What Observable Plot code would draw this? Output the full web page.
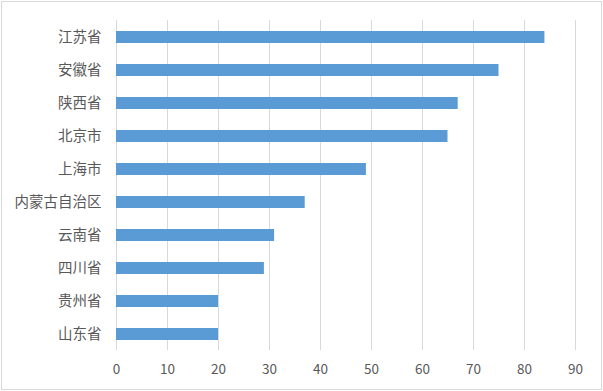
<!DOCTYPE html>
<html>
<head>
<meta charset="utf-8">
<script src="https://cdn.jsdelivr.net/npm/d3@7"></script>
<script src="https://cdn.jsdelivr.net/npm/@observablehq/plot@0.6"></script>
<style>
  html, body { margin: 0; padding: 0; background: #fff; }
  #wrap { position: relative; width: 603px; height: 391px; }
  #border { position: absolute; left: 1px; top: 1px; width: 599px; height: 387px; border: 1px solid #d9d9d9; pointer-events: none; }
</style>
</head>
<body>
<div id="wrap"><div id="border"></div></div>
<script>
const provinces = ["江苏省", "安徽省", "陕西省", "北京市", "上海市", "内蒙古自治区", "云南省", "四川省", "贵州省", "山东省"];
const values = [84, 75, 67, 65, 49, 37, 31, 29, 20, 20];
const xTicks = [0, 10, 20, 30, 40, 50, 60, 70, 80, 90];

const data = provinces.map((p, i) => ({province: p, value: values[i]}));

const chart = Plot.plot({
  width: 603,
  height: 391,
  marginLeft: 116,
  marginRight: 28,
  marginTop: 20,
  marginBottom: 41,
  style: {fontFamily: "'Noto Sans CJK SC', 'Noto Sans', sans-serif", color: "#595959", background: "transparent"},
  x: {domain: [0, 90], ticks: xTicks, label: null},
  y: {domain: provinces, paddingInner: 0.64, paddingOuter: 0.32, label: null},
  marks: [
    Plot.gridX(xTicks, {stroke: "#d9d9d9", strokeOpacity: 1, strokeWidth: 1}),
    Plot.barX(data, {y: "province", x: "value", fill: "#5b9bd5"}),
    Plot.axisX(xTicks, {tickSize: 0, tickPadding: 14, fontSize: 13.5, fill: "#595959", label: null}),
    Plot.axisY({tickSize: 0, tickPadding: 15, fontSize: 14.5, fill: "#595959", label: null})
  ]
});
document.getElementById("wrap").prepend(chart);
</script>
</body>
</html>
